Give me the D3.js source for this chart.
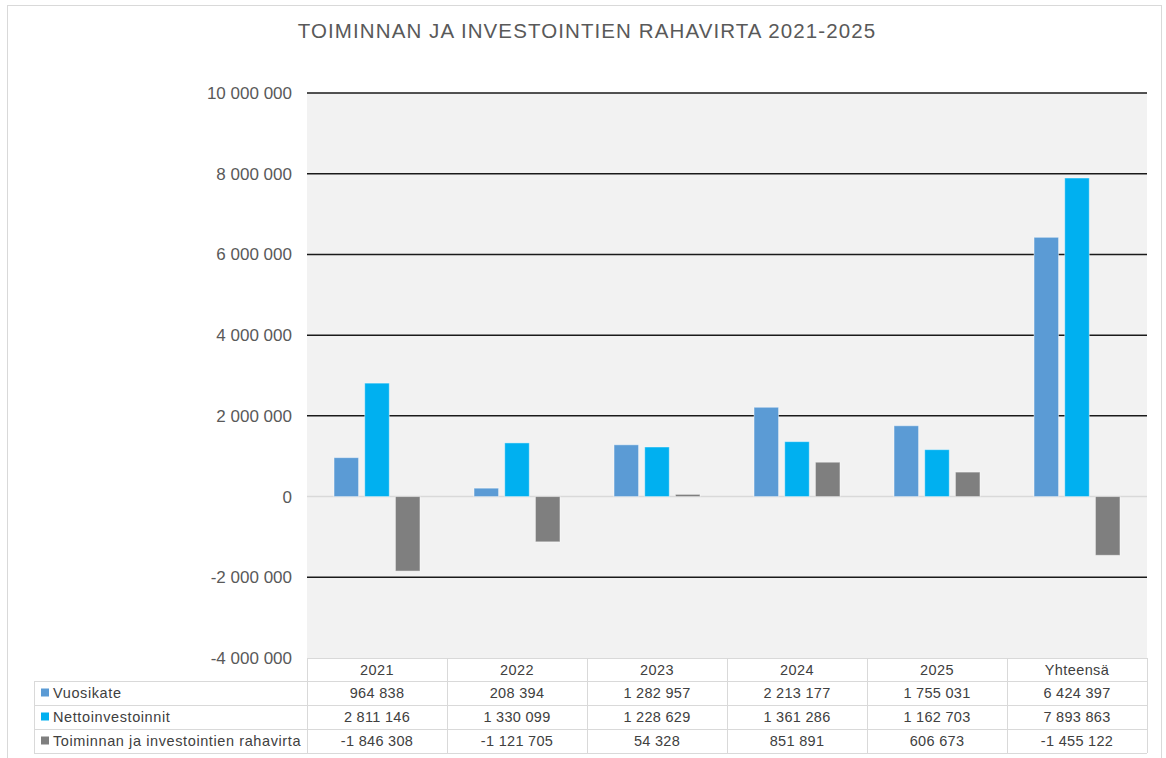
<!DOCTYPE html>
<html><head><meta charset="utf-8">
<script src="https://cdn.jsdelivr.net/npm/d3@7"></script>
<style>body{margin:0;background:#fff}svg{display:block}</style>
</head><body>
<script>
const title = "TOIMINNAN JA INVESTOINTIEN RAHAVIRTA 2021-2025";
const categories = ["2021","2022","2023","2024","2025","Yhteensä"];
const seriesNames = ["Vuosikate","Nettoinvestoinnit","Toiminnan ja investointien rahavirta"];
const vuosikate = [964838, 208394, 1282957, 2213177, 1755031, 6424397];
const nettoinvestoinnit = [2811146, 1330099, 1228629, 1361286, 1162703, 7893863];
const rahavirta = [-1846308, -1121705, 54328, 851891, 606673, -1455122];
const yTicks = [-4000000,-2000000,0,2000000,4000000,6000000,8000000,10000000];
const colors = ["#5B9BD5","#00B0F0","#7F7F7F"];
const seriesValues = [vuosikate, nettoinvestoinnit, rahavirta];

const W=1166,H=758;
const font = "'Liberation Sans', Arial, sans-serif";
const svg = d3.select("body").append("svg").attr("width",W).attr("height",H);
svg.append("rect").attr("x",7.5).attr("y",5.5).attr("width",1154).attr("height",770)
  .attr("fill","#fff").attr("stroke","#d9d9d9");

const plot = {l:307,r:1147,t:93,b:658};
const x0 = d3.scaleBand().domain(categories).range([plot.l,plot.r]).paddingInner(0).paddingOuter(0);
const bw = x0.bandwidth();
const x1 = d3.scaleBand().domain(seriesNames).range([bw*0.193,bw*0.807]).paddingInner(0.2);
const y = d3.scaleLinear().domain([-4000000,10000000]).range([plot.b,plot.t]);
const fmt = v => d3.format(",")(v).replace(/,/g," ").replace("\u2212","-");

svg.append("rect").attr("x",plot.l).attr("y",plot.t).attr("width",plot.r-plot.l).attr("height",plot.b-plot.t).attr("fill","#f2f2f2");

// title
svg.append("text").attr("x",587).attr("y",38).attr("text-anchor","middle")
  .attr("font-family",font).attr("font-size",20.5).attr("letter-spacing",1.1).attr("fill","#595959").text(title);

// grid
svg.append("g").selectAll("line").data(yTicks.filter(t=>t!==0 && t!==-4000000)).join("line")
  .attr("x1",plot.l).attr("x2",plot.r).attr("y1",d=>y(d)).attr("y2",d=>y(d))
  .attr("stroke","#1a1a1a").attr("stroke-width",1.5);
svg.append("line").attr("x1",plot.l).attr("x2",plot.r).attr("y1",y(0)).attr("y2",y(0))
  .attr("stroke","#d9d9d9").attr("stroke-width",1.5);

// y axis labels
const yAxis = d3.axisLeft(y).tickValues(yTicks).tickSize(0).tickPadding(0).tickFormat(fmt);
const ga = svg.append("g").attr("transform","translate(292,0)").call(yAxis);
ga.select(".domain").remove();
ga.selectAll("text").attr("font-family",font).attr("font-size",17).attr("fill","#595959");

// bars
const groups = svg.append("g").selectAll("g").data(categories).join("g")
  .attr("transform",d=>`translate(${x0(d)},0)`);
groups.selectAll("rect").data((c,i)=>seriesNames.map((s,k)=>({s,k,v:seriesValues[k][i]}))).join("rect")
  .attr("x",d=>x1(d.s)).attr("width",x1.bandwidth())
  .attr("y",d=>y(Math.max(0,d.v))).attr("height",d=>Math.abs(y(d.v)-y(0)))
  .attr("fill",d=>colors[d.k]).attr("stroke","#ffffff").attr("stroke-opacity",0.45).attr("stroke-width",1);

// data table
const rowY = [658,681,705,729,753];
const tbl = svg.append("g");
const bc = "#d9d9d9";
tbl.append("line").attr("x1",plot.l).attr("x2",plot.r).attr("y1",rowY[0]+0.5).attr("y2",rowY[0]+0.5).attr("stroke",bc);
[1,2,3,4].forEach(i=>tbl.append("line").attr("x1",34).attr("x2",plot.r).attr("y1",rowY[i]+0.5).attr("y2",rowY[i]+0.5).attr("stroke",bc));
tbl.append("line").attr("x1",34.5).attr("x2",34.5).attr("y1",rowY[1]).attr("y2",rowY[4]).attr("stroke",bc);
categories.forEach(c=>tbl.append("line").attr("x1",x0(c)+0.5).attr("x2",x0(c)+0.5).attr("y1",rowY[0]).attr("y2",rowY[4]).attr("stroke",bc));
tbl.append("line").attr("x1",plot.r+0.5).attr("x2",plot.r+0.5).attr("y1",rowY[0]).attr("y2",rowY[4]).attr("stroke",bc);
tbl.selectAll("text.h").data(categories).join("text").attr("class","h")
  .attr("x",d=>x0(d)+bw/2).attr("y",(rowY[0]+rowY[1])/2).attr("dy","0.35em").attr("text-anchor","middle")
  .attr("font-family",font).attr("font-size",14.5).attr("letter-spacing",0.4).attr("fill","#404040").text(d=>d);
seriesNames.forEach((s,k)=>{
  const cy=(rowY[k+1]+rowY[k+2])/2;
  tbl.append("rect").attr("x",41).attr("y",cy-4.5).attr("width",8).attr("height",8).attr("fill",colors[k]);
  tbl.append("text").attr("x",53).attr("y",cy).attr("dy","0.35em").attr("font-family",font).attr("font-size",14.5)
    .attr("letter-spacing",0.6).attr("fill","#404040").text(s);
  tbl.selectAll(null).data(seriesValues[k]).join("text")
    .attr("x",(d,i)=>x0(categories[i])+bw/2).attr("y",cy).attr("dy","0.35em").attr("text-anchor","middle")
    .attr("font-family",font).attr("font-size",14.5).attr("letter-spacing",0.3).attr("fill","#404040").text(d=>fmt(d));
});
</script>
</body></html>
